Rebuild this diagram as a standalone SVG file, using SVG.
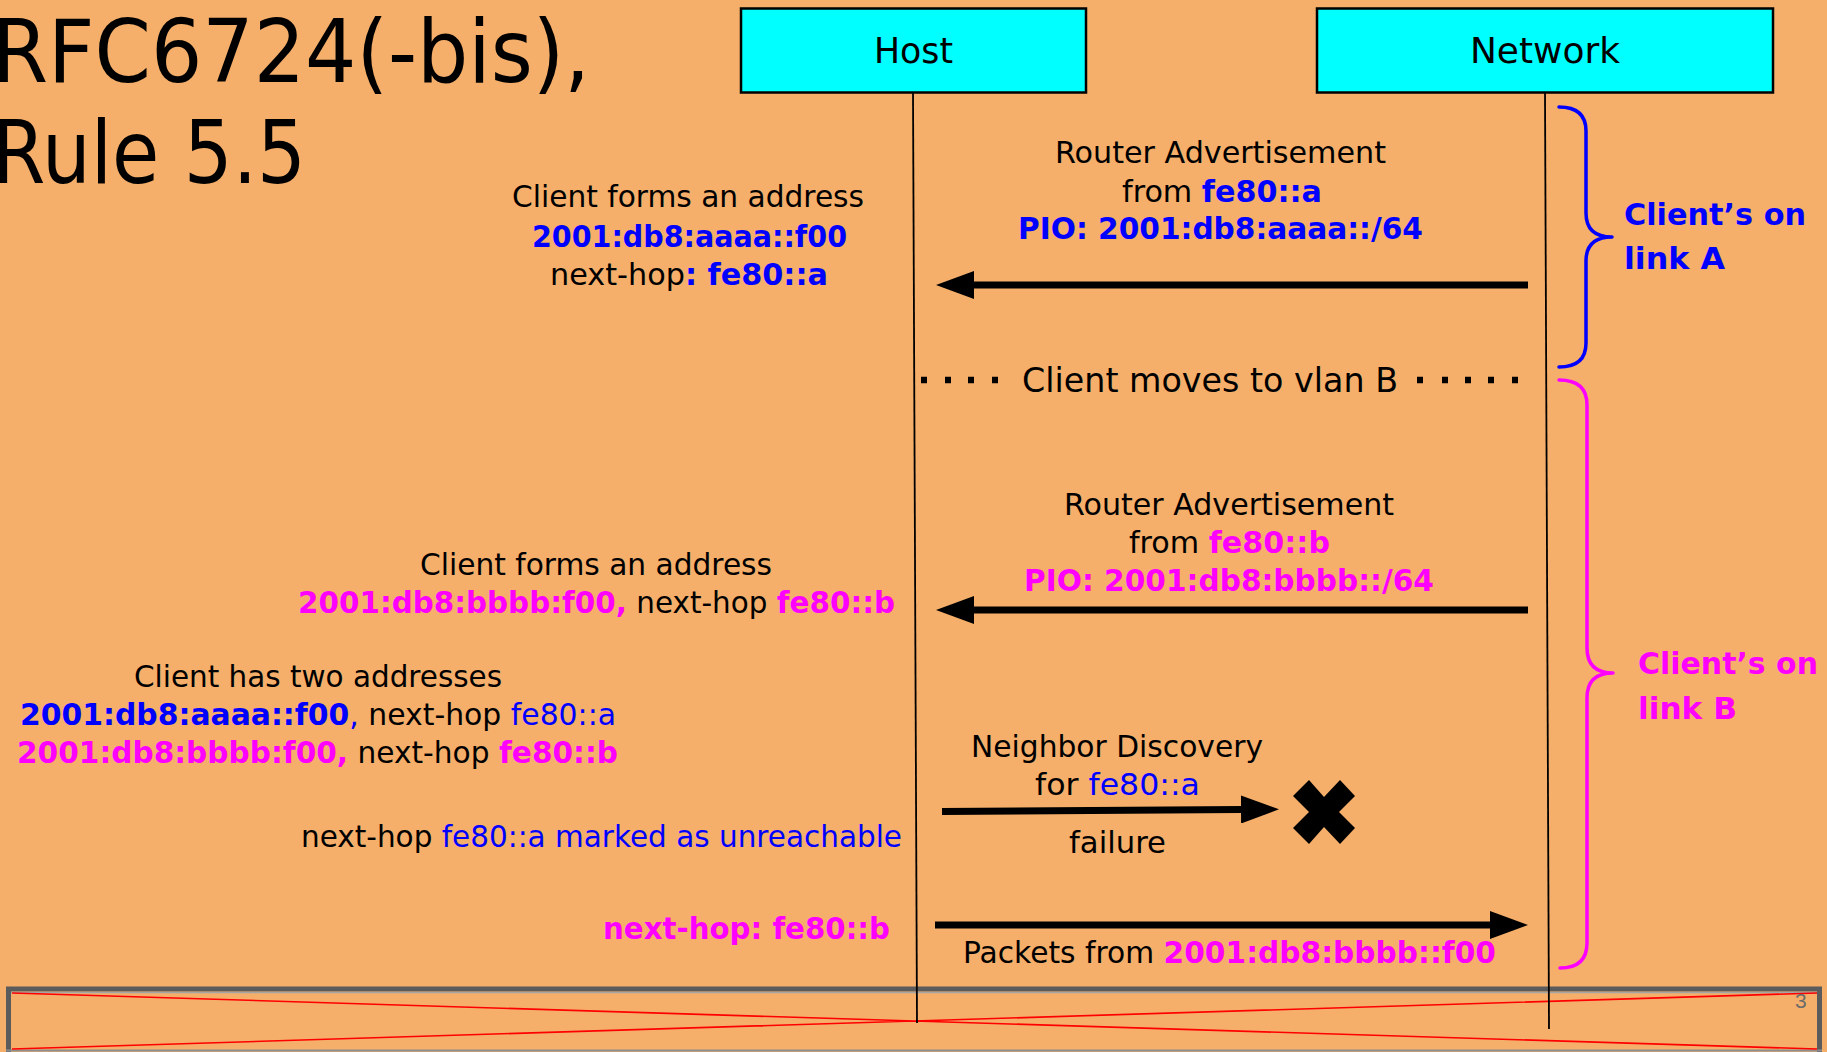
<svg xmlns="http://www.w3.org/2000/svg" width="1827" height="1052" viewBox="0 0 1827 1052">
  <style>
    text { font-family: "DejaVu Sans", "Liberation Sans", sans-serif; font-size: 30px; fill: #000; }
    .title { font-size: 88px; }
    .hdr { font-size: 36px; }
    .big { font-size: 34px; }
    .blue { fill: #0000FF; }
    .blueB { fill: #0000FF; font-weight: bold; }
    .mag { fill: #FF00FF; font-weight: bold; }
    .lbl { font-size: 31px; font-weight: bold; }
    .box { fill: #00FFFF; stroke: #000; stroke-width: 2.5; }
    .life { stroke: #000; stroke-width: 1.8; fill: none; }
    .msg { stroke: #000; stroke-width: 7; fill: none; }
    .brace { fill: none; stroke-width: 3.5; stroke-linecap: round; stroke-linejoin: round; }
  </style>
  <defs>
    <marker id="head" viewBox="0 0 38 28" refX="0" refY="14" markerWidth="38" markerHeight="28" markerUnits="userSpaceOnUse" orient="auto">
      <path d="M0 0 L38 14 L0 28 Z" fill="#000"/>
    </marker>
  </defs>

  <!-- page background -->
  <rect x="0" y="0" width="1827" height="1052" fill="#F5AF6A"/>

  <!-- footer placeholder frame -->
  <g id="footer">
    <rect x="8.5" y="989" width="1811" height="70" fill="none" stroke="#5B5B5B" stroke-width="5"/>
    <line x1="11" y1="992.5" x2="1817" y2="992.5" stroke="#A5A5A5" stroke-width="1.5"/>
    <line x1="6" y1="1050.5" x2="1822" y2="1050.5" stroke="#8E8E8E" stroke-width="2"/>
    <path d="M12 993 L1817 1049 M12 1049 L1817 993" stroke="#FF0000" stroke-width="1.6" fill="none"/>
    <text x="1795" y="1008" style="font-family:'Liberation Sans',sans-serif;font-size:21px;fill:#6B6B6B">3</text>
  </g>

  <!-- title -->
  <g id="title">
    <text class="title" x="-8" y="82" textLength="598" lengthAdjust="spacingAndGlyphs">RFC6724(-bis),</text>
    <text class="title" x="-8" y="183" textLength="314" lengthAdjust="spacingAndGlyphs">Rule 5.5</text>
  </g>

  <!-- participants -->
  <g id="host">
    <rect class="box" x="741" y="8.5" width="345" height="84"/>
    <text class="hdr" x="874" y="63" textLength="79" lengthAdjust="spacingAndGlyphs">Host</text>
    <path class="life" d="M913 92.5 L917 1023"/>
  </g>
  <g id="network">
    <rect class="box" x="1317" y="8.5" width="456" height="84"/>
    <text class="hdr" x="1470" y="63" textLength="150" lengthAdjust="spacingAndGlyphs">Network</text>
    <path class="life" d="M1545 92.5 L1549 1029"/>
  </g>

  <!-- messages -->
  <g id="connectors">
    <path class="msg" d="M1528 285 H974" marker-end="url(#head)"/>
    <path class="msg" d="M1528 610 H974" marker-end="url(#head)"/>
    <path class="msg" stroke-width="6" d="M942 811.5 L1241 809.5" marker-end="url(#head)"/>
    <path class="msg" d="M935 925 H1490" marker-end="url(#head)"/>
    <!-- dotted separator -->
    <path d="M921 380h6 M945 380h6 M968 380h6 M992 380h6 M1417 380h6 M1442 380h6 M1465 380h6 M1488 380h6 M1512 380h6" stroke="#000" stroke-width="6.5" fill="none"/>
  </g>

  <!-- link A phase -->
  <g id="ra-a">
    <text x="1055" y="163" textLength="331" lengthAdjust="spacingAndGlyphs">Router Advertisement</text>
    <text x="1122" y="202" textLength="200" lengthAdjust="spacingAndGlyphs"><tspan>from </tspan><tspan class="blueB">fe80::a</tspan></text>
    <text class="blueB" x="1018" y="239" textLength="405" lengthAdjust="spacingAndGlyphs">PIO: 2001:db8:aaaa::/64</text>
  </g>
  <g id="host-a">
    <text x="512" y="207" textLength="352" lengthAdjust="spacingAndGlyphs">Client forms an address</text>
    <text class="blueB" x="532" y="247" textLength="315" lengthAdjust="spacingAndGlyphs">2001:db8:aaaa::f00</text>
    <text x="550" y="285" textLength="278" lengthAdjust="spacingAndGlyphs"><tspan>next-hop</tspan><tspan class="blueB">: fe80::a</tspan></text>
  </g>

  <g id="vlan-move">
    <text class="big" x="1022" y="392" textLength="376" lengthAdjust="spacingAndGlyphs">Client moves to vlan B</text>
  </g>

  <!-- link B phase -->
  <g id="ra-b">
    <text x="1064" y="515" textLength="330" lengthAdjust="spacingAndGlyphs">Router Advertisement</text>
    <text x="1129" y="553" textLength="201" lengthAdjust="spacingAndGlyphs"><tspan>from </tspan><tspan class="mag">fe80::b</tspan></text>
    <text class="mag" x="1024" y="591" textLength="410" lengthAdjust="spacingAndGlyphs">PIO: 2001:db8:bbbb::/64</text>
  </g>
  <g id="host-b">
    <text x="420" y="575" textLength="352" lengthAdjust="spacingAndGlyphs">Client forms an address</text>
    <text x="298" y="613" textLength="597" lengthAdjust="spacingAndGlyphs"><tspan class="mag">2001:db8:bbbb:f00,</tspan><tspan> next-hop </tspan><tspan class="mag">fe80::b</tspan></text>
  </g>
  <g id="host-two">
    <text x="134" y="687" textLength="368" lengthAdjust="spacingAndGlyphs">Client has two addresses</text>
    <text x="20" y="725" textLength="596" lengthAdjust="spacingAndGlyphs"><tspan class="blueB">2001:db8:aaaa::f00</tspan><tspan class="blue">, </tspan><tspan>next-hop </tspan><tspan class="blue">fe80::a</tspan></text>
    <text x="17" y="763" textLength="601" lengthAdjust="spacingAndGlyphs"><tspan class="mag">2001:db8:bbbb:f00,</tspan><tspan> next-hop </tspan><tspan class="mag">fe80::b</tspan></text>
  </g>

  <g id="nd">
    <text x="971" y="757" textLength="292" lengthAdjust="spacingAndGlyphs">Neighbor Discovery</text>
    <text x="1035" y="795" textLength="165" lengthAdjust="spacingAndGlyphs"><tspan>for </tspan><tspan class="blue">fe80::a</tspan></text>
    <text x="1069" y="853" textLength="97" lengthAdjust="spacingAndGlyphs">failure</text>
    <path id="fail-mark" d="M1293 796 L1309 780 L1324 797 L1340 780 L1355 796 L1339 812 L1355 828 L1340 844 L1324 827 L1309 844 L1293 828 L1309 812 Z" fill="#000"/>
  </g>
  <g id="unreachable">
    <text x="301" y="847" textLength="601" lengthAdjust="spacingAndGlyphs"><tspan>next-hop </tspan><tspan class="blue">fe80::a marked as unreachable</tspan></text>
  </g>
  <g id="nexthop-b">
    <text class="mag" x="603" y="939" textLength="287" lengthAdjust="spacingAndGlyphs">next-hop: fe80::b</text>
  </g>
  <g id="packets">
    <text x="963" y="963" textLength="533" lengthAdjust="spacingAndGlyphs"><tspan>Packets from </tspan><tspan class="mag">2001:db8:bbbb::f00</tspan></text>
  </g>

  <!-- link braces -->
  <g id="link-a">
    <path class="brace" stroke="#0000FF" d="M1559 107 Q1586 107 1586 131 V213 Q1586 237 1612 237 Q1586 237 1586 261 V343 Q1586 367 1559 367"/>
    <text class="lbl blue" x="1624" y="225" textLength="182" lengthAdjust="spacingAndGlyphs">Client’s on</text>
    <text class="lbl blue" x="1624" y="269" textLength="101" lengthAdjust="spacingAndGlyphs">link A</text>
  </g>
  <g id="link-b">
    <path class="brace" stroke="#FF00FF" stroke-width="4" d="M1559 380 Q1587 380 1587 405 V648 Q1587 673 1613 673 Q1587 673 1587 698 V943 Q1587 968 1560 968"/>
    <text class="lbl mag" x="1638" y="674" textLength="180" lengthAdjust="spacingAndGlyphs">Client’s on</text>
    <text class="lbl mag" x="1638" y="719" textLength="99" lengthAdjust="spacingAndGlyphs">link B</text>
  </g>
</svg>
